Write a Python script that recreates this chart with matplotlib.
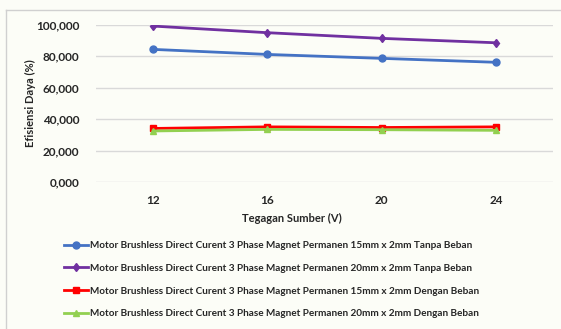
import matplotlib
matplotlib.use("Agg")
import matplotlib.pyplot as plt
from matplotlib.lines import Line2D
from matplotlib.ticker import FuncFormatter

categories = ["12", "16", "20", "24"]
blue_15_tanpa = [84.2, 81.0, 78.5, 76.0]
purple_20_tanpa = [99.0, 94.8, 91.2, 88.4]
red_15_dengan = [34.0, 35.0, 34.6, 35.0]
green_20_dengan = [32.4, 33.4, 33.2, 32.8]
labels = [
    "Motor Brushless Direct Curent 3 Phase Magnet Permanen 15mm x 2mm Tanpa Beban",
    "Motor Brushless Direct Curent 3 Phase Magnet Permanen 20mm x 2mm Tanpa Beban",
    "Motor Brushless Direct Curent 3 Phase Magnet Permanen 15mm x 2mm Dengan Beban",
    "Motor Brushless Direct Curent 3 Phase Magnet Permanen 20mm x 2mm Dengan Beban",
]
yticks = [0, 20, 40, 60, 80, 100]

plt.rcParams['font.family'] = ['Lato', 'DejaVu Sans']
W, H = 561, 329
fig = plt.figure(figsize=(W/100, H/100), dpi=100)
bg = '#fcfdf7'
fig.patch.set_facecolor(bg)
fig.lines.append(Line2D([5.5/W, 5.5/W], [0, 1-10/H], transform=fig.transFigure,
                        color='#d0d0d0', linewidth=1.0))
fig.lines.append(Line2D([5.5/W, 1], [1-10/H, 1-10/H], transform=fig.transFigure,
                        color='#d0d0d0', linewidth=1.0))

ax = fig.add_axes([96/W, 1-182/H, (553-96)/W, (182-24.5)/H])
ax.set_facecolor('none')
x = list(range(len(categories)))
series = [
    (blue_15_tanpa, '#4472c4', 'o', 5),
    (purple_20_tanpa, '#7030a0', 'd', 4.5),
    (red_15_dengan, '#ff0000', 's', 5),
    (green_20_dengan, '#92d050', '^', 5),
]
for (vals, c, m, ms), lab in zip(series, labels):
    ax.plot(x, vals, color=c, marker=m, markersize=ms, linewidth=2, label=lab,
            markeredgecolor=c, markerfacecolor=c)

ax.set_xlim(-0.5, 3.5)
ax.set_ylim(0, 100)
ax.set_yticks(yticks)
ax.yaxis.set_major_formatter(FuncFormatter(lambda v, p: "0,000" if v == 0 else f"{int(v)},000" if v < 100 else "100,000"))
ax.set_xticks(x)
ax.set_xticklabels(categories)
ax.grid(axis='y', color='#d9d9d9', linewidth=1)
ax.set_axisbelow(True)
for s in ax.spines.values():
    s.set_visible(False)
ax.tick_params(length=0, labelsize=8.5, colors='#262626')
ax.tick_params(axis='y', pad=12)
ax.tick_params(axis='x', pad=9)
for t in ax.get_xticklabels() + ax.get_yticklabels():
    t.set_fontweight('bold')

fig.text(30/W, 1-103/H, "Efisiensi Daya (%)", rotation=90, ha='center', va='center',
         fontsize=8, fontweight='bold', color='#262626')
fig.text(292/W, 1-218/H, "Tegagan Sumber (V)", ha='center', va='center',
         fontsize=8, fontweight='bold', color='#262626')

leg = fig.legend(loc='upper left', bbox_to_anchor=(64/W, 1-241/H), frameon=False,
                 prop={'size': 7.2, 'weight': 'bold'}, handlelength=2.4,
                 handletextpad=0.2, labelspacing=1.38, borderaxespad=0, borderpad=0)
for t in leg.get_texts():
    t.set_color('#262626')

fig.savefig('out.png', dpi=100, facecolor=bg)
